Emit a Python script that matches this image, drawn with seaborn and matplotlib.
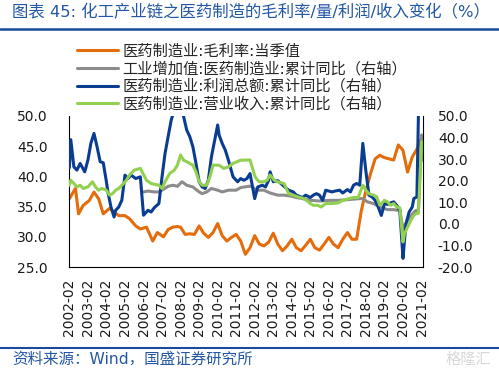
import matplotlib
matplotlib.use('Agg')
import numpy as np
import pandas as pd
import seaborn as sns
import matplotlib.pyplot as plt
import matplotlib.dates as mdates
from matplotlib.lines import Line2D

# gross margin, quarterly value (left axis)
margin_dates = ['2002-02', '2002-06', '2002-08', '2002-11', '2003-03', '2003-06', '2003-09', '2003-12',
                '2004-04', '2004-07', '2004-10', '2005-02', '2005-05', '2005-09', '2005-12', '2006-04',
                '2006-08', '2006-11', '2007-03', '2007-06', '2007-09', '2007-12', '2008-02', '2008-05',
                '2008-08', '2008-11', '2009-02', '2009-05', '2009-08', '2009-11', '2010-02', '2010-05',
                '2010-08', '2010-11', '2011-02', '2011-05', '2011-08', '2011-11', '2012-02', '2012-05',
                '2012-08', '2012-11', '2013-02', '2013-05', '2013-08', '2013-11', '2014-02', '2014-05',
                '2014-08', '2014-11', '2015-02', '2015-05', '2015-08', '2015-11', '2016-02', '2016-05',
                '2016-08', '2016-11', '2017-02', '2017-05', '2017-08', '2017-11', '2018-02', '2018-05',
                '2018-08', '2018-11', '2019-02', '2019-05', '2019-08', '2019-11', '2020-02', '2020-05',
                '2020-08', '2020-11', '2021-02']
margin_vals = [36.3, 38.0, 33.8, 35.2, 36.0, 37.4, 36.3, 33.8,
               34.7, 34.1, 33.5, 33.5, 33.0, 31.8, 31.3, 31.6,
               29.3, 30.7, 30.0, 31.2, 31.6, 31.7, 31.6, 30.4,
               30.5, 30.4, 31.8, 30.6, 29.9, 30.7, 32.2, 30.2,
               29.3, 29.9, 30.4, 29.3, 27.1, 28.2, 30.2, 28.8,
               28.5, 29.1, 30.6, 28.8, 27.7, 28.5, 29.6, 28.2,
               27.7, 28.6, 29.6, 28.2, 27.8, 28.8, 29.9, 28.8,
               28.2, 29.6, 30.7, 29.6, 29.6, 34.3, 37.7, 40.4,
               42.9, 43.5, 43.1, 42.9, 42.7, 45.2, 44.3, 40.7,
               43.2, 44.5, 46.3]

# industrial value added, cumulative yoy (right axis)
va_dates = ['2006-02', '2006-05', '2006-09', '2006-12', '2007-02', '2007-06', '2007-09', '2007-12',
            '2008-03', '2008-06', '2008-10', '2009-02', '2009-04', '2009-07', '2009-10', '2010-02',
            '2010-05', '2010-09', '2011-02', '2011-05', '2011-10', '2011-12', '2012-03', '2012-08',
            '2012-12', '2013-05', '2013-09', '2014-02', '2014-05', '2014-09', '2015-02', '2015-08',
            '2016-03', '2016-08', '2017-02', '2017-10', '2017-12', '2018-03', '2018-07', '2018-11',
            '2019-04', '2019-08', '2019-10', '2019-12', '2020-02', '2020-03', '2020-05', '2020-08',
            '2020-10', '2020-12', '2021-02', '2021-03']
va_vals = [14.8, 15.2, 14.8, 14.8, 15.6, 17.4, 17.9, 17.4,
           19.5, 17.9, 17.1, 14.8, 14.0, 14.8, 16.4, 15.6,
           14.8, 15.6, 15.6, 16.8, 17.4, 17.4, 15.6, 15.6,
           14.3, 13.3, 13.3, 12.8, 12.2, 11.7, 10.9, 10.6,
           10.9, 10.9, 11.2, 11.7, 11.7, 10.2, 9.4, 7.8,
           6.6, 6.6, 6.3, 6.6, -3.0, -0.8, 1.5, 4.5,
           6.0, 6.5, 41.2, 29.5]

# total profit, cumulative yoy (right axis)
profit_dates = ['2002-02', '2002-03', '2002-05', '2002-07', '2002-09', '2002-12', '2003-02', '2003-04',
                '2003-06', '2003-08', '2003-10', '2003-12', '2004-02', '2004-03', '2004-05', '2004-07',
                '2004-08', '2004-10', '2004-12', '2005-02', '2005-04', '2005-06', '2005-09', '2005-12',
                '2006-02', '2006-05', '2006-07', '2006-09', '2006-12', '2007-02', '2007-04', '2007-06',
                '2007-08', '2007-10', '2008-02', '2008-04', '2008-06', '2008-08', '2008-10', '2008-12',
                '2009-02', '2009-04', '2009-06', '2009-08', '2009-10', '2010-02', '2010-03', '2010-05',
                '2010-07', '2010-09', '2010-12', '2011-03', '2011-05', '2011-07', '2011-09', '2011-11',
                '2012-02', '2012-04', '2012-07', '2012-09', '2012-11', '2012-12', '2013-02', '2013-05',
                '2013-07', '2013-09', '2013-12', '2014-03', '2014-05', '2014-09', '2014-11', '2015-02',
                '2015-04', '2015-06', '2015-08', '2015-10', '2015-12', '2016-04', '2016-06', '2016-09',
                '2016-11', '2017-02', '2017-04', '2017-06', '2017-08', '2017-10', '2017-12', '2018-02',
                '2018-04', '2018-06', '2018-08', '2018-10', '2018-12', '2019-02', '2019-04', '2019-06',
                '2019-08', '2019-10', '2019-12', '2020-02', '2020-03', '2020-04', '2020-06', '2020-08',
                '2020-09', '2020-11', '2021-02', '2021-03']
profit_vals = [26.0, 39.0, 26.4, 24.9, 28.0, 24.1, 29.5, 37.3,
               41.9, 35.7, 28.8, 28.3, 19.5, 14.8, 7.8, 3.2,
               6.3, 7.8, 11.0, 22.6, 21.0, 22.6, 21.0, 21.8,
               4.0, 6.3, 5.5, 7.5, 9.4, 21.8, 32.6, 40.4,
               48.1, 53.0, 53.0, 49.7, 43.5, 40.4, 35.7, 28.0,
               19.5, 17.1, 16.4, 20.2, 31.0, 45.8, 41.2, 37.3,
               34.2, 29.5, 21.8, 19.5, 21.0, 20.2, 21.0, 23.3,
               11.7, 17.1, 17.9, 17.1, 20.2, 24.1, 19.5, 20.0,
               18.7, 17.4, 15.6, 14.8, 13.3, 12.2, 13.3, 12.2,
               13.3, 14.0, 13.3, 10.9, 15.6, 14.8, 15.2, 15.6,
               14.3, 15.9, 14.8, 17.9, 18.7, 17.9, 37.3, 24.1,
               13.3, 12.5, 10.9, 7.8, 3.9, 9.4, 9.0, 9.7,
               10.2, 8.6, 5.9, -16.0, -7.7, 0.1, 5.5, 7.8,
               11.7, 12.5, 130.0, 95.0]

# operating revenue, cumulative yoy (right axis)
rev_dates = ['2002-02', '2002-03', '2002-05', '2002-07', '2002-09', '2002-11', '2003-02', '2003-05',
             '2003-07', '2003-09', '2003-11', '2004-02', '2004-04', '2004-06', '2004-08', '2004-10',
             '2004-12', '2005-03', '2005-05', '2005-08', '2005-12', '2006-04', '2006-07', '2006-12',
             '2007-02', '2007-04', '2007-07', '2007-10', '2007-12', '2008-02', '2008-04', '2008-06',
             '2008-10', '2008-12', '2009-02', '2009-04', '2009-07', '2009-09', '2009-11', '2010-03',
             '2010-06', '2010-09', '2010-12', '2011-05', '2011-11', '2012-02', '2012-03', '2012-05',
             '2012-08', '2012-10', '2012-12', '2013-03', '2013-07', '2013-09', '2013-12', '2014-03',
             '2014-06', '2014-10', '2015-02', '2015-04', '2015-07', '2015-09', '2015-12', '2016-04',
             '2016-08', '2016-11', '2017-03', '2017-06', '2017-09', '2017-12', '2018-02', '2018-04',
             '2018-07', '2018-09', '2018-11', '2019-02', '2019-04', '2019-06', '2019-08', '2019-10',
             '2019-12', '2020-02', '2020-03', '2020-05', '2020-07', '2020-09', '2020-10', '2020-12',
             '2021-02', '2021-03']
rev_vals = [17.9, 20.2, 18.7, 17.1, 17.9, 16.4, 17.1, 19.5,
            17.1, 15.6, 16.4, 15.6, 13.3, 14.0, 15.6, 16.4,
            17.9, 20.2, 22.6, 24.9, 25.7, 20.2, 18.7, 17.9,
            16.4, 19.5, 23.3, 24.9, 27.2, 31.9, 29.5, 28.8,
            27.2, 24.1, 19.5, 17.9, 17.9, 21.8, 27.2, 27.2,
            25.7, 26.4, 28.0, 29.5, 29.6, 22.4, 21.0, 19.5,
            19.5, 20.2, 22.6, 20.0, 19.0, 18.7, 14.0, 13.3,
            12.5, 11.7, 9.4, 8.6, 8.6, 7.8, 9.4, 9.4,
            9.7, 10.9, 11.7, 12.2, 12.2, 17.9, 15.6, 14.0,
            13.3, 12.5, 8.6, 10.9, 10.2, 8.6, 9.4, 7.8,
            7.4, -8.4, -4.6, -1.5, 1.5, 3.9, 4.5, 5.0,
            38.0, 33.0]

legend_labels = ['医药制造业:毛利率:当季值',
                 '工业增加值:医药制造业:累计同比（右轴）',
                 '医药制造业:利润总额:累计同比（右轴）',
                 '医药制造业:营业收入:累计同比（右轴）']
colors = ['#E46C0A', '#8C8C8C', '#0A3D91', '#92D050']

sns.set_style('white')
plt.rcParams['font.family'] = ['DejaVu Sans', 'Noto Sans CJK SC']
plt.rcParams['axes.unicode_minus'] = False

fig = plt.figure(figsize=(4.99, 3.74), dpi=100)
ax = fig.add_axes([0.139, 0.286, 0.709, 0.404])
ax2 = ax.twinx()

lw = 2.2
sns.lineplot(x=pd.to_datetime(margin_dates), y=margin_vals, ax=ax, color=colors[0], lw=lw)
sns.lineplot(x=pd.to_datetime(va_dates), y=va_vals, ax=ax2, color=colors[1], lw=lw)
sns.lineplot(x=pd.to_datetime(profit_dates), y=profit_vals, ax=ax2, color=colors[2], lw=lw)
sns.lineplot(x=pd.to_datetime(rev_dates), y=rev_vals, ax=ax2, color=colors[3], lw=lw)

ax.set_xlim(pd.Timestamp('2002-02-01'), pd.Timestamp('2021-03-04'))
ax.set_ylim(25, 50)
ax2.set_ylim(-20, 50)
ax.set_yticks(np.arange(25, 50.1, 5))
ax2.set_yticks(np.arange(-20, 50.1, 10))
ax.yaxis.set_major_formatter(plt.FormatStrFormatter('%.1f'))
ax2.yaxis.set_major_formatter(plt.FormatStrFormatter('%.1f'))
ax.xaxis.set_major_locator(mdates.MonthLocator(bymonth=2))
ax.xaxis.set_major_formatter(mdates.DateFormatter('%Y-%m'))
ax.set_xlabel('')
ax.set_ylabel('')
ax2.set_ylabel('')

ax.tick_params(axis='y', length=0, pad=15.5, labelsize=10, colors='#1a1a1a')
ax2.tick_params(axis='y', length=0, pad=10.6, labelsize=10, colors='#1a1a1a')
ax.tick_params(axis='x', direction='in', length=3.6, width=0.8, pad=8, labelrotation=90,
               labelsize=10, colors='#1a1a1a')

for a in (ax, ax2):
    a.grid(False)
    a.spines['top'].set_visible(False)
ax.spines['right'].set_visible(False)
ax2.spines['left'].set_visible(False)
ax2.spines['bottom'].set_visible(False)
for s in (ax.spines['left'], ax.spines['bottom'], ax2.spines['right']):
    s.set_color('black')
    s.set_linewidth(0.8)

# legend sits above the plot
handles = [Line2D([], [], color=c, lw=lw) for c in colors]
fig.legend(handles, legend_labels, loc='upper left', bbox_to_anchor=(0.154, 0.884),
           frameon=False, fontsize=11, handlelength=2.7, handletextpad=0.3,
           labelspacing=0.18, borderpad=0, borderaxespad=0)

# header, footer and rules
blue = '#1A4A9C'
fig.text(12 / 499, 1 - 12 / 374, '图表 45: 化工产业链之医药制造的毛利率/量/利润/收入变化（%）',
         ha='left', va='center', fontsize=11.8, color='#2457A4')
fig.add_artist(Line2D([0, 1], [1 - 29 / 374] * 2, color=blue, lw=1.8, transform=fig.transFigure))
fig.add_artist(Line2D([0, 1], [1 - 348 / 374] * 2, color=blue, lw=1.5, transform=fig.transFigure))
fig.text(12 / 499, 1 - 359 / 374, '资料来源：Wind，国盛证券研究所',
         ha='left', va='center', fontsize=11.2, color='#2457A4')
fig.text(0.985, 1 - 359 / 374, '格隆汇', ha='right', va='center', fontsize=11, color='#D8D8D8')

fig.savefig('out.png', dpi=100)
